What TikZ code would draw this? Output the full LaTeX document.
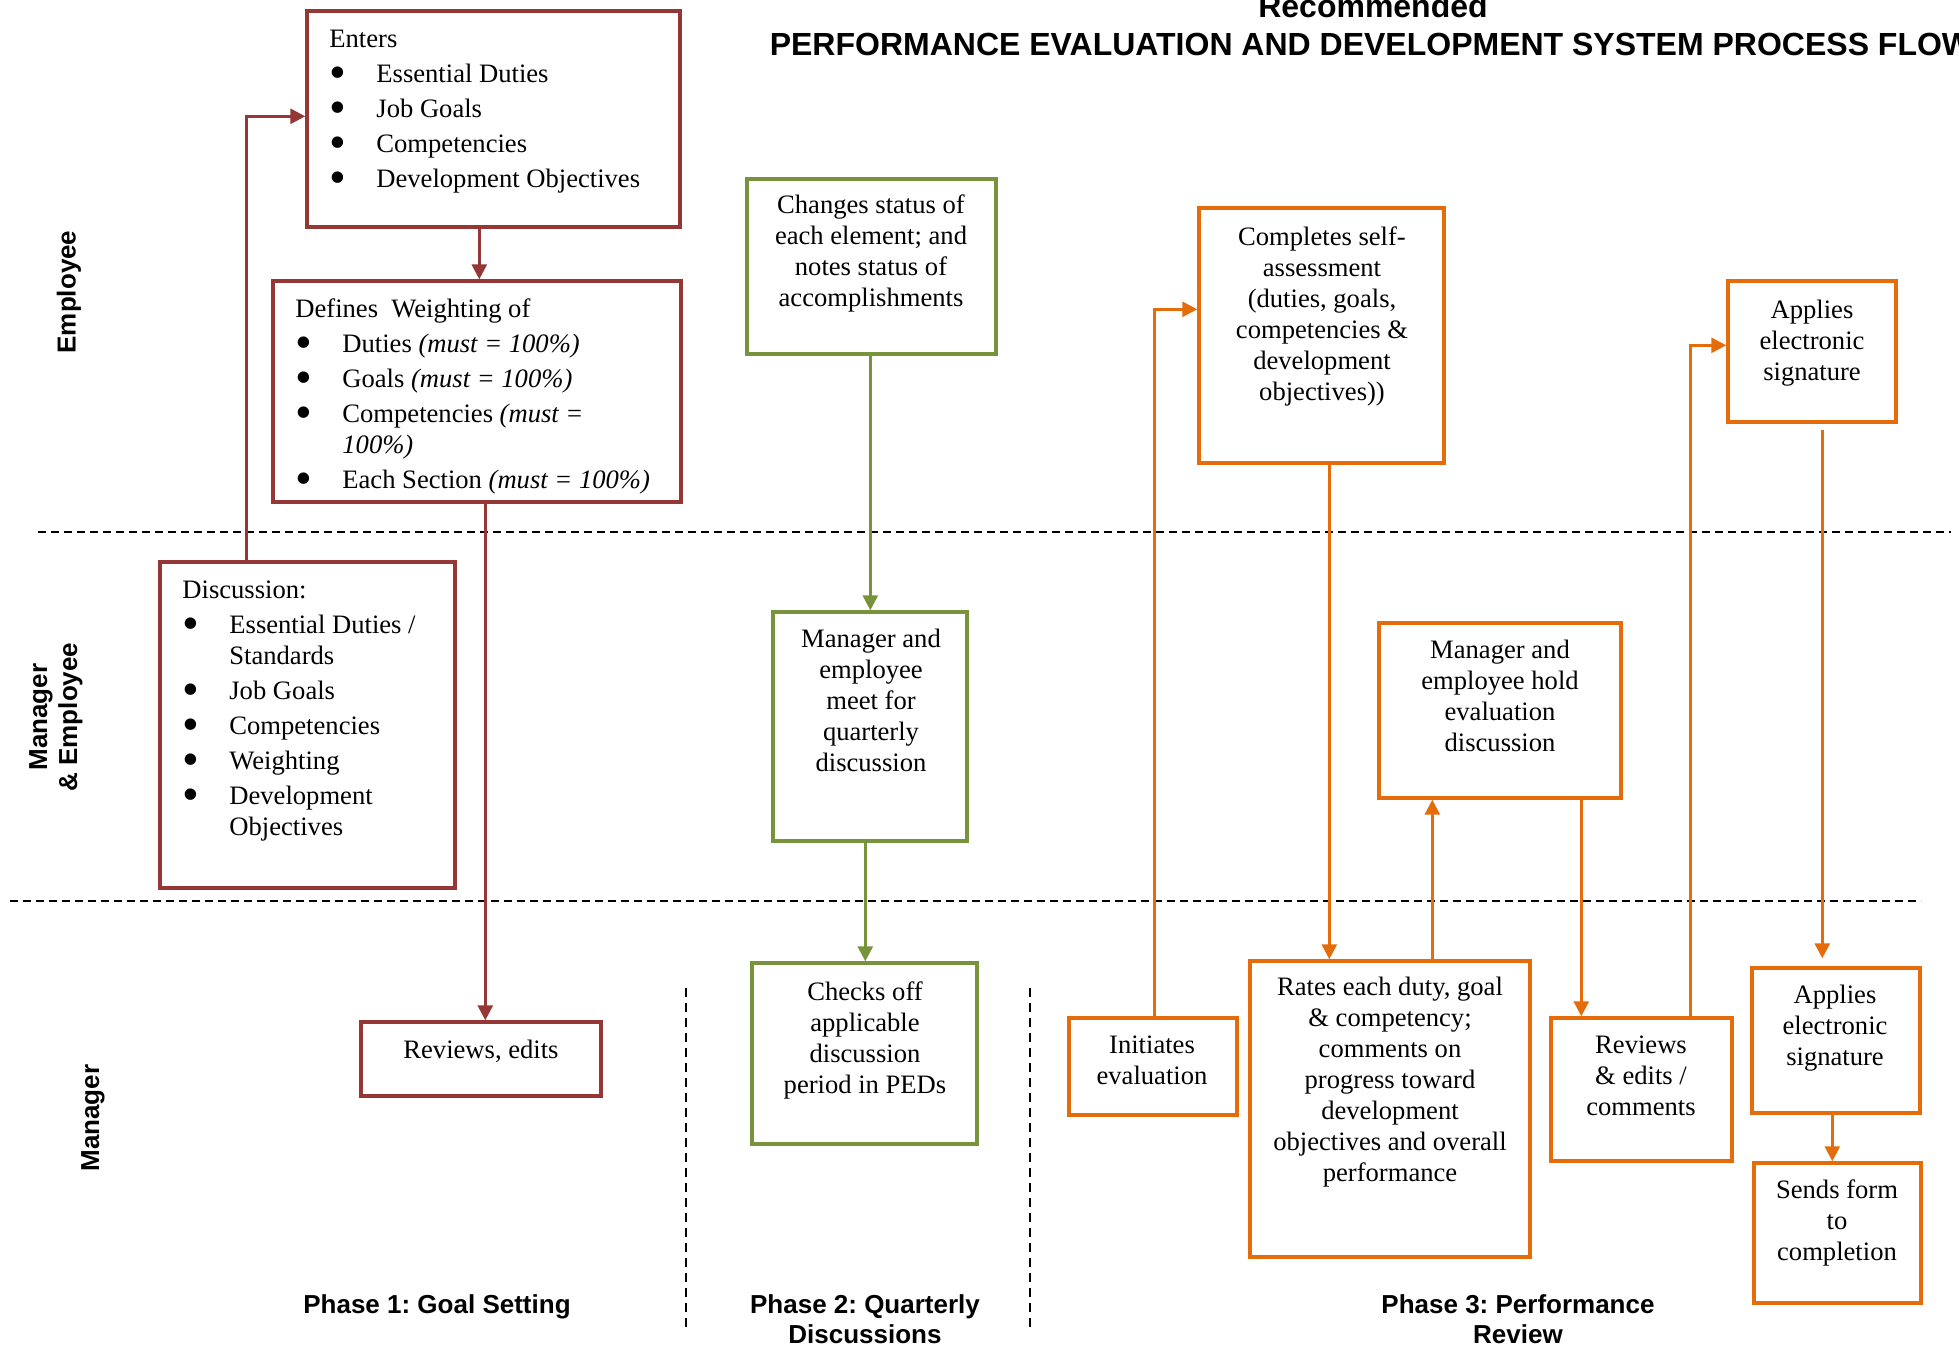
\documentclass[tikz,border=0pt]{standalone}
\usepackage{fontspec}
\setmainfont{Liberation Serif}
\newfontfamily\arialf{Liberation Sans}
\usetikzlibrary{calc,arrows.meta,fit}
\definecolor{cred}{HTML}{953735}
\definecolor{cgreen}{HTML}{77933C}
\definecolor{corange}{HTML}{E46C0A}
\frenchspacing
\newcommand\bul{\makebox[23.5pt][l]{\smash{\raisebox{-3.2pt}{\scalebox{1.8}{\textbullet}}}}}
\newcommand\ind{\hspace*{23.5pt}}
\tikzset{
  rbox/.style={draw=cred, line width=1.7pt, inner sep=0pt},
  gbox/.style={draw=cgreen, line width=1.7pt, inner sep=0pt},
  obox/.style={draw=corange, line width=1.7pt, inner sep=0pt},
  txt/.style={inner sep=0pt, font=\fontsize{13.3}{15.5}\selectfont, align=center, anchor=north},
  ltxt/.style={inner sep=0pt, font=\fontsize{13.3}{15.5}\selectfont, align=left, anchor=north west},
  arr/.style={line width=1.4pt, -{Triangle[length=7.5pt,width=7.5pt]}},
  rarr/.style={arr, draw=cred, color=cred},
  garr/.style={arr, draw=cgreen, color=cgreen},
  oarr/.style={arr, draw=corange, color=corange},
  lane/.style={inner sep=0pt, font=\arialf\bfseries\fontsize{13}{15}\selectfont, rotate=90, align=center},
  phase/.style={inner sep=0pt, font=\arialf\bfseries\fontsize{13}{15}\selectfont, align=center},
  ttl/.style={inner sep=0pt, font=\arialf\bfseries\fontsize{16}{19}\selectfont, anchor=base},
  hdash/.style={line width=0.8pt, dash pattern=on 4pt off 2.5pt},
  vdash/.style={line width=0.6pt, dash pattern=on 4.5pt off 3pt},
}
\begin{document}
\begin{tikzpicture}[x=0.5pt,y=-0.5pt]
\useasboundingbox (0,0) rectangle (1959,1351);

% titles
\node[ttl] (T1) at (1373,17) {Recommended};
\node[ttl] (T2) at (1371,55) {PERFORMANCE EVALUATION AND DEVELOPMENT SYSTEM PROCESS FLOW};

% lane labels
\node[lane] (L1) at (69,292) {Employee};
\node[lane] (L2) at (56,717) {Manager\\\& Employee};
\node[lane] (L3) at (93,1118) {Manager};

% dashed separators
\draw[hdash] (38,532) -- (1951,532);
\draw[hdash] (10,901) -- (1921,901);
\draw[vdash] (686,988) -- (686,1332);
\draw[vdash] (1030,988) -- (1030,1332);

% phase labels
\node[phase, anchor=base] (P1) at (437,1313) {Phase 1: Goal Setting};
\node[phase, anchor=north] (P2) at (865,1292) {\strut Phase 2: Quarterly\\Discussions};
\node[phase, anchor=north] (P3) at (1518,1292) {\strut Phase 3: Performance\\Review};

% ---------- Phase 1 (red) ----------
\node[rbox, fit={(307,11) (680,227)}] (A) {};
\node[ltxt] (At) at (329,25.3) {\strut Enters\\[2pt]
\bul Essential Duties\\[2pt]
\bul Job Goals\\[2pt]
\bul Competencies\\[2pt]
\bul Development Objectives};

\node[rbox, fit={(273,281) (681,502)}] (B) {};
\node[ltxt] (Bt) at (295,295.3) {\strut Defines\ \ Weighting of\\[2pt]
\bul Duties \textit{(must = 100\%)}\\[2pt]
\bul Goals \textit{(must = 100\%)}\\[2pt]
\bul Competencies \textit{(must =}\\
\ind\textit{100\%)}\\[2pt]
\bul Each Section \textit{(must = 100\%)}};

\node[rbox, fit={(160,562) (455,888)}] (C) {};
\node[ltxt] (Ct) at (182,576.3) {\strut Discussion:\\[2pt]
\bul Essential Duties /\\
\ind Standards\\[2pt]
\bul Job Goals\\[2pt]
\bul Competencies\\[2pt]
\bul Weighting\\[2pt]
\bul Development\\
\ind Objectives};

\node[rbox, fit={(361,1022) (601,1096)}] (R) {};
\node[txt] (Rt) at (481,1036.3) {\strut Reviews, edits};

\draw[rarr] ($(C.north west)+(88,0)$) |- ($(A.north west)+(0,107)$);
\draw[rarr] ($(A.south west)+(174,0)$) coordinate (a1) -- (a1 |- B.north);
\draw[rarr] ($(B.south west)+(214,0)$) coordinate (b1) -- (b1 |- R.north);

% ---------- Phase 2 (green) ----------
\node[gbox, fit={(747,179) (996,354)}] (G1) {};
\node[txt] (G1t) at (871,191.3) {\strut Changes status of\\each element; and\\notes status of\\accomplishments};

\node[gbox, fit={(773,612) (967,841)}] (G2) {};
\node[txt] (G2t) at (871,625.3) {\strut Manager and\\employee\\meet for\\quarterly\\discussion};

\node[gbox, fit={(752,963) (977,1144)}] (G3) {};
\node[txt] (G3t) at (865,978.3) {\strut Checks off\\applicable\\discussion\\period in PEDs};

\draw[garr] ($(G1.south west)+(125,0)$) coordinate (g1) -- (g1 |- G2.north);
\draw[garr] ($(G2.south west)+(94,0)$) coordinate (g2) -- (g2 |- G3.north);

% ---------- Phase 3 (orange) ----------
\node[obox, fit={(1199,208) (1444,463)}] (O1) {};
\node[txt] (O1t) at (1322,223.3) {\strut Completes self-\\assessment\\(duties, goals,\\competencies \&\\development\\objectives))};

\node[obox, fit={(1728,281) (1896,422)}] (O2) {};
\node[txt] (O2t) at (1812,296.3) {\strut Applies\\electronic\\signature};

\node[obox, fit={(1379,623) (1621,798)}] (O3) {};
\node[txt] (O3t) at (1500,636.3) {\strut Manager and\\employee hold\\evaluation\\discussion};

\node[obox, fit={(1069,1018) (1237,1115)}] (O4) {};
\node[txt] (O4t) at (1152,1031.3) {\strut Initiates\\evaluation};

\node[obox, fit={(1250,961) (1530,1257)}] (O5) {};
\node[txt] (O5t) at (1390,973.3) {\strut Rates each duty, goal\\\& competency;\\comments on\\progress toward\\development\\objectives and overall\\performance};

\node[obox, fit={(1551,1018) (1732,1161)}] (O6) {};
\node[txt] (O6t) at (1641,1031.3) {\strut Reviews\\\& edits /\\comments};

\node[obox, fit={(1752,968) (1920,1113)}] (O7) {};
\node[txt] (O7t) at (1835,981.3) {\strut Applies\\electronic\\signature};

\node[obox, fit={(1754,1163) (1921,1303)}] (O8) {};
\node[txt] (O8t) at (1837,1176.3) {\strut Sends form\\to\\completion};

\draw[oarr] ($(O4.north west)+(87,0)$) |- ($(O1.north west)+(0,103)$);
\draw[oarr] ($(O1.south west)+(132,0)$) coordinate (o1) -- (o1 |- O5.north);
\draw[oarr] ($(O5.north west)+(184,0)$) coordinate (o5) -- (o5 |- O3.south);
\draw[oarr] ($(O3.south west)+(204,0)$) coordinate (o3) -- (o3 |- O6.north);
\draw[oarr] ($(O6.north west)+(141,0)$) |- ($(O2.north west)+(0,66)$);
\draw[oarr, shorten <=3pt, shorten >=4pt] ($(O2.south west)+(96,0)$) coordinate (o2) -- (o2 |- O7.north);
\draw[oarr] ($(O7.south west)+(82,0)$) coordinate (o7) -- (o7 |- O8.north);
\end{tikzpicture}
\end{document}
